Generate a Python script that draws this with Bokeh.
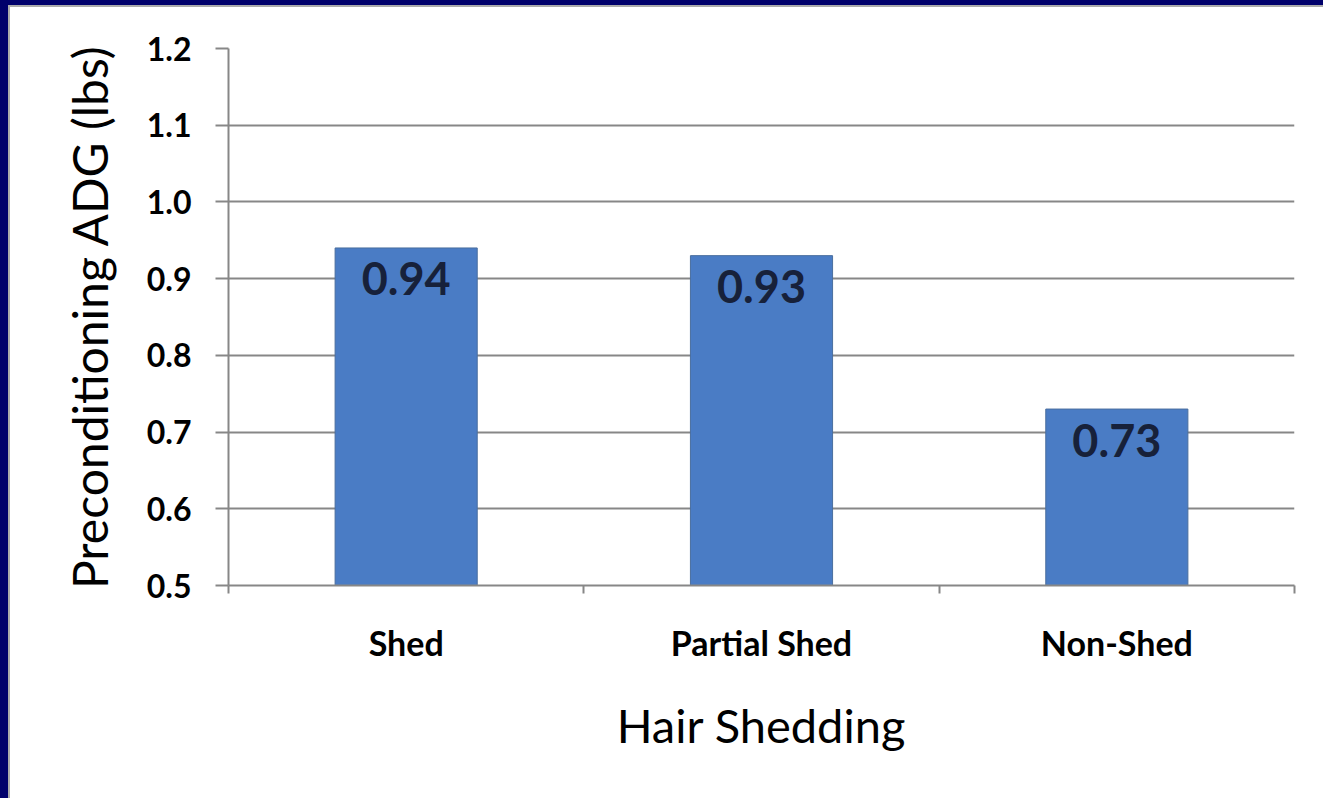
from bokeh.plotting import figure
from bokeh.layouts import column
from bokeh.models import ColumnDataSource, FixedTicker, NumeralTickFormatter, Range1d
from bokeh.core.properties import value
from bokeh.embed import file_html
from bokeh.resources import INLINE

# Average daily gain during preconditioning, by hair-shedding score
categories = ["Shed", "Partial Shed", "Non-Shed"]
adg_lbs = [0.94, 0.93, 0.73]
value_labels = ["0.94", "0.93", "0.73"]
y_ticks = [0.5, 0.6, 0.7, 0.8, 0.9, 1.0, 1.1, 1.2]

FONT = "Lato"
GRID = "#878787"
BAR = "#4A7CC5"

centers = [i + 0.5 for i in range(len(categories))]
source = ColumnDataSource(dict(x=centers, top=adg_lbs, label=value_labels))

p = figure(
    width=1313, height=791,
    x_range=Range1d(0, len(categories)), y_range=Range1d(0.5, 1.2),
    output_backend="svg", toolbar_location=None,
    min_border_left=218, min_border_right=29, min_border_top=41, min_border_bottom=213,
)
p.background_fill_color = "white"
p.border_fill_color = "white"
p.outline_line_color = None

# bars
p.vbar(x="x", top="top", bottom=0.5, width=0.40, source=source,
       fill_color=BAR, line_color="#4A6E9E", line_width=1)

# value labels inside the bar tops
p.text(x="x", y="top", text="label", source=source,
       text_align="center", text_baseline="middle", y_offset=31,
       text_font=value(FONT), text_font_style="bold",
       text_font_size="45px", text_color="#17213A")

# x axis: category names at bar centres, tick marks at category boundaries
xa = p.xaxis[0]
xa.ticker = FixedTicker(ticks=centers, minor_ticks=list(range(len(categories) + 1)))
xa.major_label_overrides = {c: name for c, name in zip(centers, categories)}
xa.major_tick_out = 0
xa.major_tick_in = 0
xa.minor_tick_out = 8
xa.minor_tick_in = 0
xa.minor_tick_line_color = GRID
xa.minor_tick_line_width = 2
xa.axis_line_color = GRID
xa.axis_line_width = 2
xa.major_label_text_font = FONT
xa.major_label_text_font_style = "bold"
xa.major_label_text_font_size = "34px"
xa.major_label_text_color = "black"
xa.major_label_standoff = 28
xa.axis_label = "Hair Shedding"
xa.axis_label_text_font = FONT
xa.axis_label_text_font_style = "normal"
xa.axis_label_text_font_size = "47px"
xa.axis_label_text_color = "black"
xa.axis_label_standoff = 31

# y axis
ya = p.yaxis[0]
ya.ticker = FixedTicker(ticks=y_ticks)
ya.formatter = NumeralTickFormatter(format="0.0")
ya.major_tick_out = 13
ya.major_tick_in = 0
ya.minor_tick_line_color = None
ya.major_tick_line_color = GRID
ya.major_tick_line_width = 2
ya.axis_line_color = GRID
ya.axis_line_width = 2
ya.major_label_text_font = FONT
ya.major_label_text_font_style = "bold"
ya.major_label_text_font_size = "32px"
ya.major_label_text_color = "black"
ya.major_label_standoff = 24
ya.axis_label = "Preconditioning ADG (lbs)"
ya.axis_label_text_font = FONT
ya.axis_label_text_font_style = "normal"
ya.axis_label_text_font_size = "48px"
ya.axis_label_text_color = "black"
ya.axis_label_standoff = 26

p.xgrid.grid_line_color = None
p.ygrid.ticker = FixedTicker(ticks=y_ticks)
p.ygrid.grid_line_color = GRID
p.ygrid.grid_line_width = 2

# white panel with a thin grey edge, framed by navy on the top and left
panel = column(p, styles={"background-color": "white"})
page = column(
    panel,
    styles={
        "background-color": "#ABABAB",
        "border-top": "5px solid #00006B",
        "border-left": "8px solid #00006B",
        "padding-top": "2px",
        "padding-left": "2px",
    },
)

open("out.html", "w").write(file_html(page, INLINE))
